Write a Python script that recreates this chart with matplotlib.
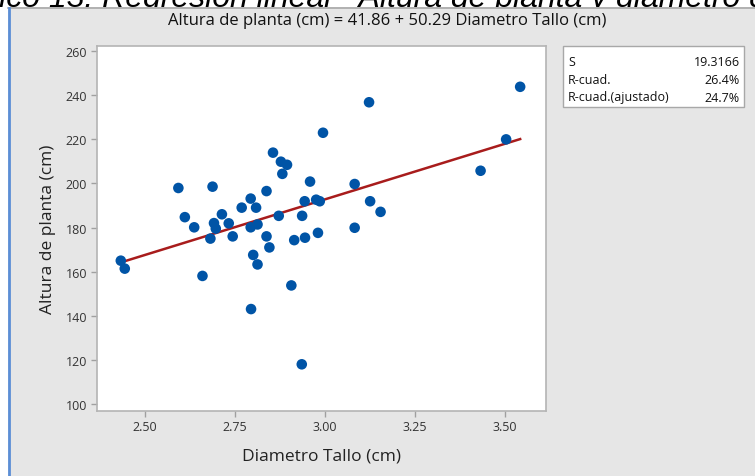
import matplotlib
matplotlib.use("Agg")
import matplotlib.pyplot as plt
from matplotlib.patches import Rectangle
from matplotlib.lines import Line2D
import numpy as np

# ---- data ----
diametro = [2.433, 2.444, 2.593, 2.611, 2.637, 2.660, 2.682, 2.688, 2.692, 2.697,
            2.714, 2.733, 2.744, 2.769, 2.794, 2.794, 2.795, 2.801, 2.809, 2.813,
            2.813, 2.838, 2.838, 2.846, 2.856, 2.872, 2.878, 2.882, 2.895, 2.907,
            2.915, 2.936, 2.937, 2.944, 2.945, 2.959, 2.976, 2.981, 2.986, 2.995,
            3.083, 3.083, 3.123, 3.126, 3.155, 3.433, 3.504, 3.543]
altura = [165.0, 161.4, 197.9, 184.7, 180.1, 158.1, 175.0, 198.5, 182.0, 179.5,
          186.0, 181.9, 176.0, 189.0, 180.1, 193.1, 143.1, 167.6, 189.0, 181.4,
          163.3, 196.5, 176.0, 171.0, 213.9, 185.3, 209.8, 204.3, 208.4, 153.8,
          174.3, 118.1, 185.3, 191.9, 175.4, 200.8, 192.6, 177.6, 191.9, 222.9,
          199.7, 179.9, 236.7, 191.9, 187.1, 205.7, 219.9, 243.7]
intercepto = 41.86
pendiente = 50.29
stats_labels = ["S", "R-cuad.", "R-cuad.(ajustado)"]
stats_values = ["19.3166", "26.4%", "24.7%"]
xticks = [2.50, 2.75, 3.00, 3.25, 3.50]
yticks = [100, 120, 140, 160, 180, 200, 220, 240, 260]

W, H = 755, 477
plt.rcParams['font.family'] = ['Open Sans', 'DejaVu Sans']

fig = plt.figure(figsize=(W / 100, H / 100), dpi=100, facecolor='white')

def fx(px):
    return px / W

def fy(py):
    return 1 - py / H

# gray panel with borders
fig.patches.append(Rectangle((fx(8), 0), 1 - fx(8), fy(8), transform=fig.transFigure,
                             facecolor='#e6e6e6', edgecolor='none', zorder=-1))
fig.lines.append(Line2D([fx(8), 1], [fy(8.5), fy(8.5)], transform=fig.transFigure,
                        color='#a8a8a8', lw=1.2, zorder=-0.5))
fig.lines.append(Line2D([fx(9), fx(9)], [0, fy(8.5)], transform=fig.transFigure,
                        color='#5b8ed6', lw=2.0, zorder=-0.5))

# cropped caption at the very top (cut off as in the reference)
fig.text(fx(-63), fy(7), "Gráfico 13. Regresión lineal - Altura de planta y diámetro del tallo",
         fontsize=23, style='italic', family=['Liberation Sans', 'DejaVu Sans'],
         ha='left', va='baseline', color='black', zorder=-2)

x0, x1, y0, y1 = 96.7, 545.7, 46.7, 411.7
ax = fig.add_axes([fx(x0), fy(y1), fx(x1) - fx(x0), fy(y0) - fy(y1)])
ax.set_zorder(1)
ax.set_facecolor('white')
ax.scatter(diametro, altura, s=58, color='#0054a6', edgecolors='none', zorder=3)
xl = np.array([min(diametro), max(diametro)])
ax.plot(xl, intercepto + pendiente * xl, color='#a81c1c', lw=1.8, zorder=2)

ax.set_xlim(2.366, 3.614)
ax.set_ylim(97.1, 262.3)
ax.set_xticks(xticks)
ax.set_xticklabels([f"{v:.2f}" for v in xticks])
ax.set_yticks(yticks)
ax.set_yticklabels([str(v) for v in yticks])
for sp in ax.spines.values():
    sp.set_color('#b4b4b4')
    sp.set_linewidth(1.2)
ax.tick_params(direction='out', length=4, width=1, color='#a0a0a0',
               labelsize=9, labelcolor='#333333', pad=3)

ax.set_xlabel("Diametro Tallo (cm)", fontsize=12.5, color='#222222', va='center')
ax.set_ylabel("Altura de planta (cm)", fontsize=12.5, color='#222222', va='center')
ax.xaxis.set_label_coords(0.5, (y1 - 457) / (y1 - y0))
ax.yaxis.set_label_coords((48 - x0) / (x1 - x0), 0.5)

fig.text(fx(387), fy(21), "Altura de planta (cm) = 41.86 + 50.29 Diametro Tallo (cm)",
         fontsize=12, ha='center', va='center', color='#111111', zorder=2)

# stats box
fig.patches.append(Rectangle((fx(562.7), fy(108)), fx(744) - fx(562.7), fy(46.7) - fy(108),
                             transform=fig.transFigure, facecolor='white',
                             edgecolor='#a8a8a8', lw=1.0, zorder=2))
rows_y = [62, 80, 98]
for lab, val, yy in zip(stats_labels, stats_values, rows_y):
    fig.text(fx(568), fy(yy), lab, fontsize=9, ha='left', va='center', color='#111111', zorder=3)
    fig.text(fx(740), fy(yy), val, fontsize=9, ha='right', va='center', color='#111111', zorder=3)

fig.savefig("out.png", dpi=100, facecolor='white')
